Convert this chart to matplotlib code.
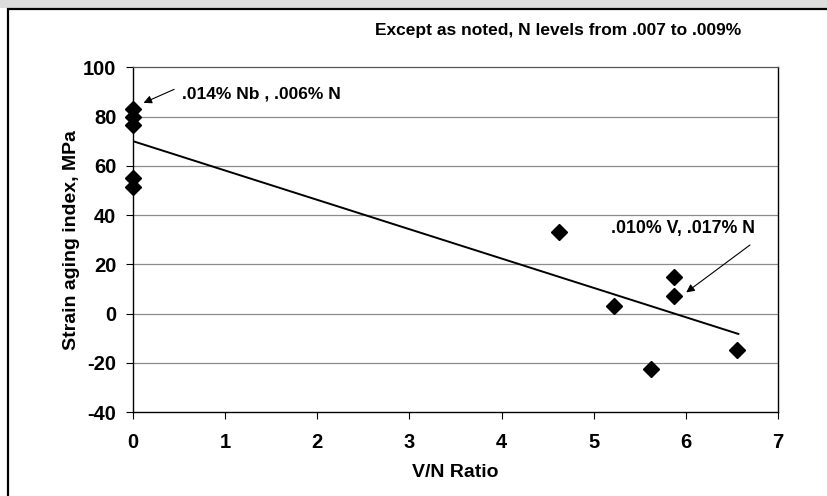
import matplotlib
matplotlib.use("Agg")
import matplotlib.pyplot as plt
from matplotlib.patches import Rectangle

plt.rcParams['font.family'] = ['Liberation Sans', 'DejaVu Sans']
plt.rcParams['font.weight'] = 'bold'
plt.rcParams['axes.unicode_minus'] = False

# -----------------------------
# Data
# -----------------------------
vn_ratio = [0, 0, 0, 0, 0, 4.62, 5.22, 5.62, 5.87, 5.87, 6.56]
aging_index = [83, 80, 76.5, 55.2, 51.5, 33, 3, -22.7, 15, 7, -14.8]

trend_x = [0, 6.57]
trend_y = [70, -8.3]

y_ticks = [-40, -20, 0, 20, 40, 60, 80, 100]
x_ticks = [0, 1, 2, 3, 4, 5, 6, 7]

note_top = "Except as noted, N levels from .007 to .009%"
note_nb = ".014% Nb , .006% N"
note_v = ".010% V, .017% N"

# -----------------------------
# Figure
# -----------------------------
fig = plt.figure(figsize=(8.27, 4.96), dpi=100)
W, H = 827, 496

# grey scan strip and outer chart frame (cropped at right / bottom)
fig.patches.append(Rectangle((0, 1 - 8 / H), 1, 8 / H, transform=fig.transFigure,
                             facecolor="#dcdcdc", edgecolor="none", zorder=-2))
fig.patches.append(Rectangle((8 / W, -0.05), 1.1, 1.05 - 9 / H, transform=fig.transFigure,
                             facecolor="none", edgecolor="black", lw=1.6, zorder=-1))

ax = fig.add_axes([133 / W, 1 - 412 / H, (778 - 133) / W, (412 - 67.3) / H])
ax.set_facecolor("white")

for yv in y_ticks[1:-1]:
    ax.axhline(yv, color="#8c8c8c", lw=0.9, zorder=1)

ax.plot(trend_x, trend_y, color="black", lw=1.4, zorder=3)
ax.plot(vn_ratio, aging_index, linestyle="none", marker="D", markersize=8.2,
        color="black", zorder=4, clip_on=False)

ax.set_xlim(0, 7)
ax.set_ylim(-40, 100)
ax.set_xticks(x_ticks)
ax.set_yticks(y_ticks)
ax.tick_params(axis="both", direction="out", length=5, width=0.8, labelsize=14.5)
ax.tick_params(axis="x", pad=10)
ax.tick_params(axis="y", pad=7)

for side in ["left", "right", "bottom"]:
    ax.spines[side].set_color("black")
    ax.spines[side].set_linewidth(1.0)
ax.spines["top"].set_color("#555555")
ax.spines["top"].set_linewidth(0.9)

ax.set_xlabel("V/N Ratio", fontsize=14, fontweight="bold", labelpad=9)
ax.set_ylabel("Strain aging index, MPa", fontsize=14, fontweight="bold", labelpad=2)

# annotations
ax.text(0.53, 89.3, note_nb, fontsize=12.5, fontweight="bold", va="center", ha="left")
ax.annotate("", xy=(0.087, 85.1), xytext=(0.474, 91.5),
            arrowprops=dict(arrowstyle="-|>", color="black", lw=0.8, mutation_scale=12))

ax.text(5.19, 34.7, note_v, fontsize=12.8, fontweight="bold", va="center", ha="left")
ax.annotate("", xy=(5.98, 7.9), xytext=(6.72, 28.5),
            arrowprops=dict(arrowstyle="-|>", color="black", lw=0.8, mutation_scale=12))

fig.text(558 / W, 1 - 30 / H, note_top, fontsize=12.5, fontweight="bold",
         ha="center", va="center")

fig.savefig("out.png", dpi=100)
